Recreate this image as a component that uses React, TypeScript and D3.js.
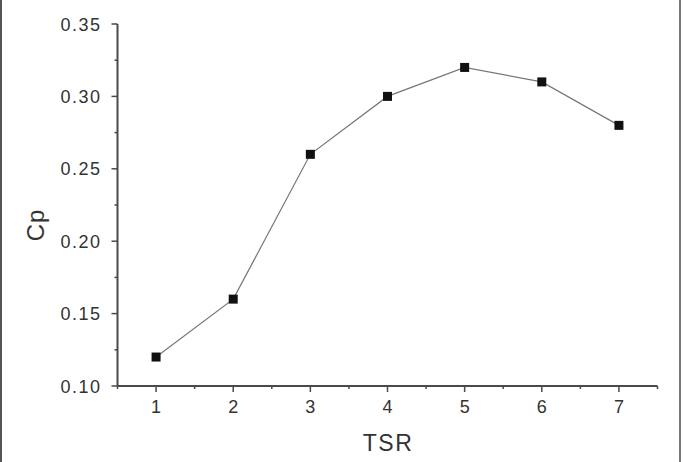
import React from "react";
import * as d3 from "d3";

const tsr = [1, 2, 3, 4, 5, 6, 7];
const cp = [0.12, 0.16, 0.26, 0.3, 0.32, 0.31, 0.28];
const xTicks = [1, 2, 3, 4, 5, 6, 7];
const yTicks = [0.1, 0.15, 0.2, 0.25, 0.3, 0.35];

export default function App() {
  const W = 684, H = 462;
  const x = d3.scaleLinear().domain([0.5, 7.5]).range([117.5, 657.5]);
  const y = d3.scaleLinear().domain([0.1, 0.35]).range([386, 24]);
  const line = d3.line<number>().x((_, i) => x(tsr[i])).y((d) => y(d));
  const xMinor = d3.range(0.5, 7.51, 1);
  const yMinor = d3.range(0.125, 0.35, 0.05);
  const axisColor = "#4a4a4a";
  const font = "'Liberation Sans', Arial, sans-serif";
  return (
    <svg width={W} height={H} style={{ position: "absolute", left: 0, top: 0 }}>
      <rect x={0} y={0} width={W} height={H} fill="#fff" />
      <line x1={1} y1={0} x2={1} y2={H} stroke="#555" strokeWidth={2} />
      <line x1={680} y1={0} x2={680} y2={H} stroke="#777" strokeWidth={2} />
      <path d={line(cp) || ""} fill="none" stroke="#777" strokeWidth={1.2} />
      {cp.map((v, i) => (
        <rect key={i} x={x(tsr[i]) - 4.5} y={y(v) - 4.5} width={9} height={9} fill="#111" />
      ))}
      <line x1={x(0.5)} y1={y(0.1)} x2={x(7.5)} y2={y(0.1)} stroke={axisColor} strokeWidth={2} />
      <line x1={x(0.5)} y1={y(0.1)} x2={x(0.5)} y2={y(0.35)} stroke={axisColor} strokeWidth={2} />
      {xTicks.map((t) => (
        <g key={"xt" + t}>
          <line x1={x(t)} x2={x(t)} y1={y(0.1)} y2={y(0.1) + 6} stroke={axisColor} strokeWidth={1.5} />
          <text x={x(t)} y={413} textAnchor="middle" fontSize={18} fill="#333" fontFamily={font}>
            {t}
          </text>
        </g>
      ))}
      {xMinor.map((t) => (
        <line key={"xm" + t} x1={x(t)} x2={x(t)} y1={y(0.1)} y2={y(0.1) + 3} stroke={axisColor} strokeWidth={1.5} />
      ))}
      {yTicks.map((t) => (
        <g key={"yt" + t}>
          <line x1={x(0.5)} x2={x(0.5) - 6} y1={y(t)} y2={y(t)} stroke={axisColor} strokeWidth={1.5} />
          <text x={101.5} y={y(t) + 6.5} textAnchor="end" fontSize={18} fill="#333" fontFamily={font} letterSpacing={1.5}>
            {t.toFixed(2)}
          </text>
        </g>
      ))}
      {yMinor.map((t) => (
        <line key={"ym" + t} x1={x(0.5)} x2={x(0.5) - 3} y1={y(t)} y2={y(t)} stroke={axisColor} strokeWidth={1.5} />
      ))}
      <text x={388} y={451} textAnchor="middle" fontSize={23} fill="#333" fontFamily={font} letterSpacing={1.5}>
        TSR
      </text>
      <text
        transform={`translate(44, 225) rotate(-90)`}
        textAnchor="middle"
        fontSize={24}
        fill="#333"
        fontFamily={font}
        letterSpacing={1}
      >
        Cp
      </text>
    </svg>
  );
}
